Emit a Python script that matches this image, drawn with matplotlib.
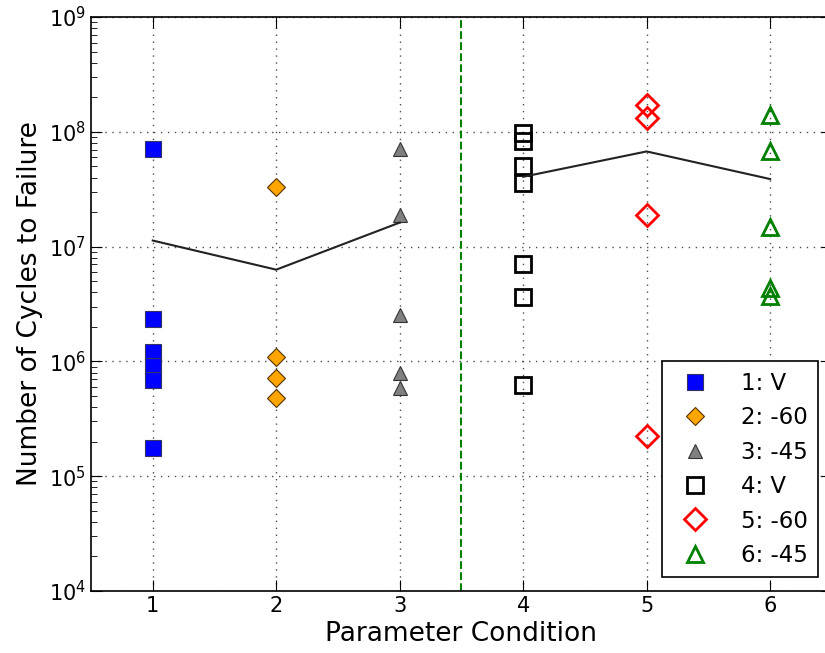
import matplotlib.pyplot as plt

# values
x1 = [1, 1, 1, 1, 1, 1]
y1 = [7.1e7, 2.32e6, 1.22e6, 9.06e5, 6.84e5, 1.76e5]
x2 = [2, 2, 2, 2]
y2 = [3.34e7, 1.1e6, 7.2e5, 4.77e5]
x3 = [3, 3, 3, 3, 3]
y3 = [7.1e7, 1.9e7, 2.56e6, 8.0e5, 5.9e5]
x4 = [4, 4, 4, 4, 4, 4, 4]
y4 = [9.8e7, 8.4e7, 5.06e7, 3.6e7, 7.1e6, 3.67e6, 6.2e5]
x5 = [5, 5, 5, 5]
y5 = [1.72e8, 1.32e8, 1.9e7, 2.24e5]
x6 = [6, 6, 6, 6, 6]
y6 = [1.41e8, 6.8e7, 1.49e7, 4.4e6, 3.75e6]

# average lines for the two groups
avg_x_a = [1, 2, 3]
avg_y_a = [1.13e7, 6.3e6, 1.62e7]
avg_x_b = [4, 5, 6]
avg_y_b = [4.06e7, 6.75e7, 3.88e7]

labels = ['1: V', '2: -60', '3: -45', '4: V', '5: -60', '6: -45']

fig = plt.figure(figsize=(8.25, 6.53), dpi=100)
ax = fig.add_axes([0.1103, 0.0949, 0.898, 0.879])

ax.plot(x1, y1, 's', color='blue', mec='#333366', ms=11, mew=0.8, label=labels[0], ls='none')
ax.plot(x2, y2, 'D', color='orange', mec='#553300', ms=9.5, mew=0.8, label=labels[1], ls='none')
ax.plot(x3, y3, '^', color='gray', mec='#333333', ms=10.5, mew=0.8, label=labels[2], ls='none')
ax.plot(x4, y4, 's', mfc='none', mec='black', ms=11, mew=2, label=labels[3], ls='none')
ax.plot(x5, y5, 'D', mfc='none', mec='red', ms=11, mew=2, label=labels[4], ls='none')
ax.plot(x6, y6, '^', mfc='none', mec='green', ms=12, mew=2, label=labels[5], ls='none')

ax.plot(avg_x_a, avg_y_a, '-', color='#222222', lw=1.5)
ax.plot(avg_x_b, avg_y_b, '-', color='#222222', lw=1.5)

ax.axvline(3.5, color='green', ls='--', lw=1.5)

ax.set_yscale('log')
ax.set_ylim(1e4, 1e9)
ax.set_xlim(0.5, 6.5)
ax.set_xticks([1, 2, 3, 4, 5, 6])
ax.grid(True, color='0.3', ls=(0, (1, 4)), lw=1)
ax.tick_params(which='both', direction='in', top=True, right=True, labelsize=15)
ax.tick_params(which='major', length=8)
ax.tick_params(which='minor', length=4)
for s in ax.spines.values():
    s.set_linewidth(1.2)

ax.set_xlabel('Parameter Condition', fontsize=19)
ax.set_ylabel('Number of Cycles to Failure', fontsize=19)

leg = ax.legend(loc='lower right', numpoints=1, fontsize=16.5, fancybox=False,
                framealpha=1, edgecolor='black', borderaxespad=0.6,
                handletextpad=1.0, labelspacing=0.5, borderpad=0.45)
leg.get_frame().set_linewidth(1.2)

fig.savefig('out.png', dpi=100, facecolor='white')
